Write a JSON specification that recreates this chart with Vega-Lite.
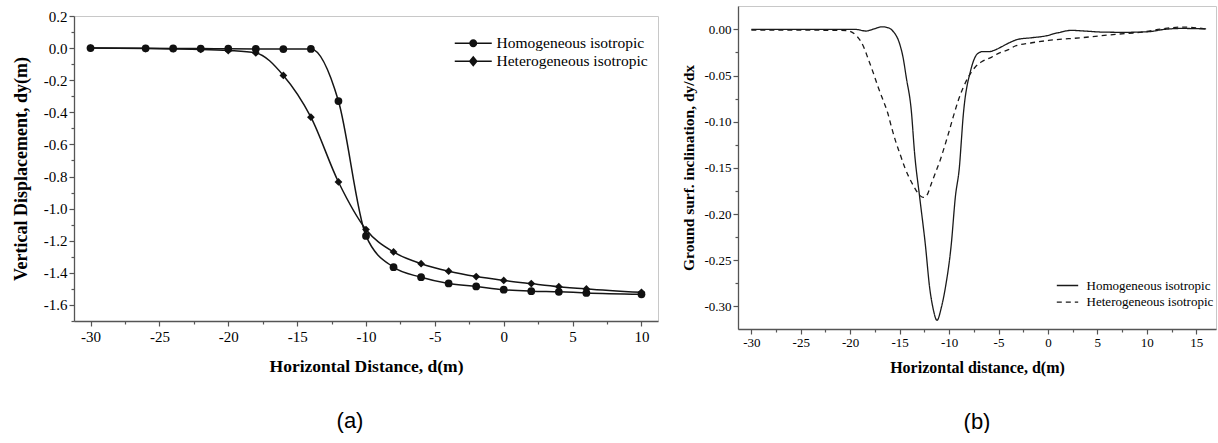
{
  "$schema": "https://vega.github.io/schema/vega-lite/v6.json",
  "background": "white",
  "padding": {"left": 11, "top": 5, "right": 0, "bottom": 0},
  "spacing": 20,
  "config": {
    "font": "Liberation Serif",
    "view": {"stroke": "#c8c8c8", "strokeWidth": 1},
    "axis": {"domainColor": "#555555", "tickColor": "#555555", "labelColor": "#000000", "titleColor": "#000000", "grid": false, "labelFont": "Liberation Serif", "titleFont": "Liberation Serif", "titleFontWeight": "bold", "domainWidth": 1.3, "tickWidth": 1.2},
    "legend": {"labelFont": "Liberation Serif", "labelColor": "#000000"},
    "title": {"font": "Liberation Sans", "fontWeight": "normal", "color": "#000000"}
  },
  "resolve": {"scale": {"shape": "independent", "strokeDash": "independent"}, "legend": {"shape": "independent", "strokeDash": "independent"}},
  "hconcat": [
    {
      "spacing": 1,
      "vconcat": [
        {
          "width": 584,
          "height": 1,
          "view": {"stroke": null},
          "data": {"values": [{"d": 0}]},
          "mark": {"type": "point", "opacity": 0, "size": 0, "strokeWidth": 0},
          "encoding": {}
        },
        {
          "width": 584,
          "height": 305,
          "title": {"text": "(a)", "orient": "bottom", "frame": "group", "anchor": "middle", "fontSize": 22, "offset": 36, "dx": -16},
          "data": {"values": [
            {"d": -30, "dy": 0.0, "series": "Homogeneous isotropic"},
            {"d": -26, "dy": -0.001, "series": "Homogeneous isotropic"},
            {"d": -24, "dy": -0.002, "series": "Homogeneous isotropic"},
            {"d": -22, "dy": -0.003, "series": "Homogeneous isotropic"},
            {"d": -20, "dy": -0.004, "series": "Homogeneous isotropic"},
            {"d": -18, "dy": -0.005, "series": "Homogeneous isotropic"},
            {"d": -16, "dy": -0.006, "series": "Homogeneous isotropic"},
            {"d": -14, "dy": -0.005, "series": "Homogeneous isotropic"},
            {"d": -12, "dy": -0.33, "series": "Homogeneous isotropic"},
            {"d": -10, "dy": -1.17, "series": "Homogeneous isotropic"},
            {"d": -8, "dy": -1.365, "series": "Homogeneous isotropic"},
            {"d": -6, "dy": -1.427, "series": "Homogeneous isotropic"},
            {"d": -4, "dy": -1.466, "series": "Homogeneous isotropic"},
            {"d": -2, "dy": -1.485, "series": "Homogeneous isotropic"},
            {"d": 0, "dy": -1.505, "series": "Homogeneous isotropic"},
            {"d": 2, "dy": -1.514, "series": "Homogeneous isotropic"},
            {"d": 4, "dy": -1.518, "series": "Homogeneous isotropic"},
            {"d": 6, "dy": -1.525, "series": "Homogeneous isotropic"},
            {"d": 10, "dy": -1.534, "series": "Homogeneous isotropic"},
            {"d": -30, "dy": 0.0, "series": "Heterogeneous isotropic"},
            {"d": -26, "dy": -0.003, "series": "Heterogeneous isotropic"},
            {"d": -24, "dy": -0.005, "series": "Heterogeneous isotropic"},
            {"d": -22, "dy": -0.008, "series": "Heterogeneous isotropic"},
            {"d": -20, "dy": -0.015, "series": "Heterogeneous isotropic"},
            {"d": -18, "dy": -0.03, "series": "Heterogeneous isotropic"},
            {"d": -16, "dy": -0.17, "series": "Heterogeneous isotropic"},
            {"d": -14, "dy": -0.43, "series": "Heterogeneous isotropic"},
            {"d": -12, "dy": -0.834, "series": "Heterogeneous isotropic"},
            {"d": -10, "dy": -1.13, "series": "Heterogeneous isotropic"},
            {"d": -8, "dy": -1.27, "series": "Heterogeneous isotropic"},
            {"d": -6, "dy": -1.343, "series": "Heterogeneous isotropic"},
            {"d": -4, "dy": -1.39, "series": "Heterogeneous isotropic"},
            {"d": -2, "dy": -1.423, "series": "Heterogeneous isotropic"},
            {"d": 0, "dy": -1.447, "series": "Heterogeneous isotropic"},
            {"d": 2, "dy": -1.467, "series": "Heterogeneous isotropic"},
            {"d": 4, "dy": -1.486, "series": "Heterogeneous isotropic"},
            {"d": 6, "dy": -1.5, "series": "Heterogeneous isotropic"},
            {"d": 10, "dy": -1.521, "series": "Heterogeneous isotropic"}
          ]},
          "layer": [
            {
              "mark": {"type": "line", "interpolate": "monotone", "color": "#151515", "strokeWidth": 1.5},
              "encoding": {
                "x": {"field": "d", "type": "quantitative", "scale": {"domain": [-31.2, 11.2], "nice": false, "zero": false},
                      "axis": {"orient": "bottom", "values": [-30, -25, -20, -15, -10, -5, 0, 5, 10], "labelExpr": "replace(format(datum.value, 'd'), '\u2212', '-')", "labelFont": "Liberation Serif", "labelFontSize": 15, "tickSize": 5, "labelPadding": 3.5, "title": "Horizontal Distance, d(m)", "titleFont": "Liberation Serif", "titleFontSize": 17.5, "titlePadding": 13}},
                "y": {"field": "dy", "type": "quantitative", "scale": {"domain": [-1.7, 0.2], "nice": false, "zero": false},
                      "axis": {"orient": "left", "values": [-1.6, -1.4, -1.2, -1.0, -0.8, -0.6, -0.4, -0.2, 0, 0.2], "labelExpr": "replace(format(datum.value, '.1f'), '\u2212', '-')", "labelFont": "Liberation Serif", "labelFontSize": 15, "tickSize": 5, "labelPadding": 2, "title": "Vertical Displacement, dy(m)", "titleFont": "Liberation Serif", "titleFontSize": 18, "titlePadding": 13}},
                "detail": {"field": "series", "type": "nominal"}
              }
            },
            {
              "mark": {"type": "point", "filled": true, "size": 60, "color": "#111111", "opacity": 1},
              "encoding": {
                "x": {"field": "d", "type": "quantitative",
                      "axis": {"orient": "bottom", "values": [-27.5, -22.5, -17.5, -12.5, -7.5, -2.5, 2.5, 7.5], "labels": false, "domain": false, "tickSize": 3, "title": null}},
                "y": {"field": "dy", "type": "quantitative",
                      "axis": {"orient": "left", "values": [-1.7, -1.5, -1.3, -1.1, -0.9, -0.7, -0.5, -0.3, -0.1, 0.1], "labels": false, "domain": false, "tickSize": 3, "title": null}},
                "shape": {"field": "series", "type": "nominal",
                          "scale": {"domain": ["Homogeneous isotropic", "Heterogeneous isotropic"], "range": ["circle", "diamond"]},
                          "legend": null}
              }
            },
            {
              "mark": {"type": "point", "size": 100, "filled": true, "color": "#111111", "opacity": 0},
              "encoding": {
                "x": {"field": "d", "type": "quantitative", "axis": null},
                "y": {"field": "dy", "type": "quantitative", "axis": null},
                "shape": {"field": "series", "type": "nominal",
                          "scale": {"domain": ["Homogeneous isotropic", "Heterogeneous isotropic"], "range": ["M-3.7,-0.15L-0.7,-0.15L-0.7,0.15L-3.7,0.15Z M0.7,-0.15L3.7,-0.15L3.7,0.15L0.7,0.15Z M-0.8,0A0.8,0.8,0,1,1,0.8,0A0.8,0.8,0,1,1,-0.8,0Z", "M-3.7,-0.15L-0.8,-0.15L-0.8,0.15L-3.7,0.15Z M0.8,-0.15L3.7,-0.15L3.7,0.15L0.8,0.15Z M0,-1.1L0.9,0L0,1.1L-0.9,0Z"]},
                          "legend": {"orient": "none", "legendX": 391.5, "legendY": 19.4, "title": null, "labelFont": "Liberation Serif", "labelFontSize": 15.5, "labelOffset": 15.5, "symbolOffset": 0, "padding": 0, "rowPadding": 1.2, "symbolSize": 100, "symbolOpacity": 1, "symbolStrokeWidth": 0, "symbolFillColor": "#111111"}}
              }
            }
          ],
          "resolve": {"axis": {"x": "independent", "y": "independent"}, "scale": {"shape": "independent"}, "legend": {"shape": "independent"}}
        }
      ]
    },
    {
      "width": 478,
      "height": 323,
      "title": {"text": "(b)", "orient": "bottom", "frame": "group", "anchor": "middle", "fontSize": 22, "offset": 36.5, "dx": 0},
      "data": {"values": [
        {"d": -30, "slope": 0, "series": "Homogeneous isotropic"},
        {"d": -27, "slope": 0, "series": "Homogeneous isotropic"},
        {"d": -24, "slope": 0, "series": "Homogeneous isotropic"},
        {"d": -21, "slope": 0, "series": "Homogeneous isotropic"},
        {"d": -19.5, "slope": 0, "series": "Homogeneous isotropic"},
        {"d": -18.4, "slope": -0.0018, "series": "Homogeneous isotropic"},
        {"d": -17.6, "slope": 0.0005, "series": "Homogeneous isotropic"},
        {"d": -16.8, "slope": 0.0028, "series": "Homogeneous isotropic"},
        {"d": -16.1, "slope": 0.0015, "series": "Homogeneous isotropic"},
        {"d": -15.67, "slope": -0.002, "series": "Homogeneous isotropic"},
        {"d": -14.99, "slope": -0.016, "series": "Homogeneous isotropic"},
        {"d": -14.66, "slope": -0.03, "series": "Homogeneous isotropic"},
        {"d": -14.33, "slope": -0.052, "series": "Homogeneous isotropic"},
        {"d": -13.82, "slope": -0.088, "series": "Homogeneous isotropic"},
        {"d": -13.48, "slope": -0.135, "series": "Homogeneous isotropic"},
        {"d": -12.97, "slope": -0.182, "series": "Homogeneous isotropic"},
        {"d": -12.4, "slope": -0.233, "series": "Homogeneous isotropic"},
        {"d": -11.96, "slope": -0.28, "series": "Homogeneous isotropic"},
        {"d": -11.63, "slope": -0.3015, "series": "Homogeneous isotropic"},
        {"d": -11.22, "slope": -0.315, "series": "Homogeneous isotropic"},
        {"d": -10.79, "slope": -0.3015, "series": "Homogeneous isotropic"},
        {"d": -10.38, "slope": -0.28, "series": "Homogeneous isotropic"},
        {"d": -9.78, "slope": -0.233, "series": "Homogeneous isotropic"},
        {"d": -9.37, "slope": -0.182, "series": "Homogeneous isotropic"},
        {"d": -8.93, "slope": -0.146, "series": "Homogeneous isotropic"},
        {"d": -8.76, "slope": -0.121, "series": "Homogeneous isotropic"},
        {"d": -8.59, "slope": -0.096, "series": "Homogeneous isotropic"},
        {"d": -8.42, "slope": -0.078, "series": "Homogeneous isotropic"},
        {"d": -8.16, "slope": -0.06, "series": "Homogeneous isotropic"},
        {"d": -7.92, "slope": -0.049, "series": "Homogeneous isotropic"},
        {"d": -7.65, "slope": -0.038, "series": "Homogeneous isotropic"},
        {"d": -7.41, "slope": -0.031, "series": "Homogeneous isotropic"},
        {"d": -7.08, "slope": -0.026, "series": "Homogeneous isotropic"},
        {"d": -6.57, "slope": -0.024, "series": "Homogeneous isotropic"},
        {"d": -5.89, "slope": -0.024, "series": "Homogeneous isotropic"},
        {"d": -5.39, "slope": -0.0225, "series": "Homogeneous isotropic"},
        {"d": -4.72, "slope": -0.019, "series": "Homogeneous isotropic"},
        {"d": -4.04, "slope": -0.0152, "series": "Homogeneous isotropic"},
        {"d": -3.03, "slope": -0.0108, "series": "Homogeneous isotropic"},
        {"d": -1.69, "slope": -0.0091, "series": "Homogeneous isotropic"},
        {"d": -0.33, "slope": -0.0073, "series": "Homogeneous isotropic"},
        {"d": 1.01, "slope": -0.0037, "series": "Homogeneous isotropic"},
        {"d": 2.36, "slope": -0.0011, "series": "Homogeneous isotropic"},
        {"d": 3.71, "slope": -0.0018, "series": "Homogeneous isotropic"},
        {"d": 5.39, "slope": -0.0029, "series": "Homogeneous isotropic"},
        {"d": 7.76, "slope": -0.0032, "series": "Homogeneous isotropic"},
        {"d": 10.1, "slope": -0.0026, "series": "Homogeneous isotropic"},
        {"d": 11.8, "slope": 0, "series": "Homogeneous isotropic"},
        {"d": 13.5, "slope": 0.001, "series": "Homogeneous isotropic"},
        {"d": 16, "slope": 0.0005, "series": "Homogeneous isotropic"},
        {"d": -30, "slope": -0.0008, "series": "Heterogeneous isotropic"},
        {"d": -25, "slope": -0.0008, "series": "Heterogeneous isotropic"},
        {"d": -22, "slope": -0.001, "series": "Heterogeneous isotropic"},
        {"d": -20.4, "slope": -0.0012, "series": "Heterogeneous isotropic"},
        {"d": -19.36, "slope": -0.007, "series": "Heterogeneous isotropic"},
        {"d": -18.68, "slope": -0.018, "series": "Heterogeneous isotropic"},
        {"d": -18.18, "slope": -0.032, "series": "Heterogeneous isotropic"},
        {"d": -17.67, "slope": -0.047, "series": "Heterogeneous isotropic"},
        {"d": -17.16, "slope": -0.063, "series": "Heterogeneous isotropic"},
        {"d": -16.66, "slope": -0.077, "series": "Heterogeneous isotropic"},
        {"d": -16.22, "slope": -0.09, "series": "Heterogeneous isotropic"},
        {"d": -15.82, "slope": -0.106, "series": "Heterogeneous isotropic"},
        {"d": -15.41, "slope": -0.121, "series": "Heterogeneous isotropic"},
        {"d": -14.96, "slope": -0.135, "series": "Heterogeneous isotropic"},
        {"d": -14.5, "slope": -0.149, "series": "Heterogeneous isotropic"},
        {"d": -13.62, "slope": -0.169, "series": "Heterogeneous isotropic"},
        {"d": -12.94, "slope": -0.18, "series": "Heterogeneous isotropic"},
        {"d": -12.6, "slope": -0.182, "series": "Heterogeneous isotropic"},
        {"d": -12.27, "slope": -0.18, "series": "Heterogeneous isotropic"},
        {"d": -11.76, "slope": -0.166, "series": "Heterogeneous isotropic"},
        {"d": -11.26, "slope": -0.152, "series": "Heterogeneous isotropic"},
        {"d": -10.91, "slope": -0.142, "series": "Heterogeneous isotropic"},
        {"d": -10.58, "slope": -0.131, "series": "Heterogeneous isotropic"},
        {"d": -10.07, "slope": -0.113, "series": "Heterogeneous isotropic"},
        {"d": -9.56, "slope": -0.094, "series": "Heterogeneous isotropic"},
        {"d": -9.07, "slope": -0.077, "series": "Heterogeneous isotropic"},
        {"d": -8.57, "slope": -0.063, "series": "Heterogeneous isotropic"},
        {"d": -8.07, "slope": -0.052, "series": "Heterogeneous isotropic"},
        {"d": -7.37, "slope": -0.041, "series": "Heterogeneous isotropic"},
        {"d": -6.7, "slope": -0.035, "series": "Heterogeneous isotropic"},
        {"d": -5.68, "slope": -0.03, "series": "Heterogeneous isotropic"},
        {"d": -5.0, "slope": -0.026, "series": "Heterogeneous isotropic"},
        {"d": -4.0, "slope": -0.022, "series": "Heterogeneous isotropic"},
        {"d": -3.31, "slope": -0.018, "series": "Heterogeneous isotropic"},
        {"d": -1.63, "slope": -0.0145, "series": "Heterogeneous isotropic"},
        {"d": 0.06, "slope": -0.012, "series": "Heterogeneous isotropic"},
        {"d": 3.43, "slope": -0.009, "series": "Heterogeneous isotropic"},
        {"d": 6.82, "slope": -0.0054, "series": "Heterogeneous isotropic"},
        {"d": 9.51, "slope": -0.003, "series": "Heterogeneous isotropic"},
        {"d": 11.88, "slope": 0.001, "series": "Heterogeneous isotropic"},
        {"d": 13.57, "slope": 0.0025, "series": "Heterogeneous isotropic"},
        {"d": 15.9, "slope": 0.0006, "series": "Heterogeneous isotropic"}
      ]},
      "layer": [
        {
          "mark": {"type": "line", "interpolate": "monotone", "color": "#1a1a1a", "strokeWidth": 1.3},
          "encoding": {
            "x": {"field": "d", "type": "quantitative", "scale": {"domain": [-31.35, 17.0], "nice": false, "zero": false},
                  "axis": {"orient": "bottom", "values": [-30, -25, -20, -15, -10, -5, 0, 5, 10, 15], "labelExpr": "replace(format(datum.value, 'd'), '\u2212', '-')", "labelFont": "Liberation Serif", "labelFontSize": 13, "tickSize": 5, "labelPadding": 2, "title": "Horizontal distance, d(m)", "titleFont": "Liberation Serif", "titleFontSize": 16, "titlePadding": 10}},
            "y": {"field": "slope", "type": "quantitative", "scale": {"domain": [-0.3244, 0.0253], "nice": false, "zero": false},
                  "axis": {"orient": "left", "values": [-0.3, -0.25, -0.2, -0.15, -0.1, -0.05, 0], "labelExpr": "replace(format(datum.value, '.2f'), '\u2212', '-')", "labelFont": "Liberation Serif", "labelFontSize": 13, "tickSize": 5, "labelPadding": 2, "title": "Ground surf. inclination, dy/dx", "titleFont": "Liberation Serif", "titleFontSize": 15.5, "titlePadding": 7.3}},
            "strokeDash": {"field": "series", "type": "nominal",
                           "scale": {"domain": ["Homogeneous isotropic", "Heterogeneous isotropic"], "range": [[1, 0], [5, 4]]},
                           "legend": {"orient": "none", "legendX": 323, "legendY": 273, "title": null, "labelFont": "Liberation Serif", "labelFontSize": 13, "labelOffset": 12.6, "symbolOffset": 0, "padding": 0, "rowPadding": 2.7, "symbolType": "M-3.3,0H3.3", "symbolSize": 42, "symbolStrokeWidth": 1.3, "symbolStrokeColor": "#1a1a1a"}}
          }
        },
        {
          "mark": {"type": "line", "opacity": 0, "interpolate": "monotone"},
          "encoding": {
            "x": {"field": "d", "type": "quantitative",
                  "axis": {"orient": "bottom", "values": [-27.5, -22.5, -17.5, -12.5, -7.5, -2.5, 2.5, 7.5, 12.5], "labels": false, "domain": false, "tickSize": 3, "title": null}},
            "y": {"field": "slope", "type": "quantitative",
                  "axis": {"orient": "left", "values": [-0.275, -0.225, -0.175, -0.125, -0.075, -0.025], "labels": false, "domain": false, "tickSize": 3, "title": null}},
            "detail": {"field": "series", "type": "nominal"}
          }
        }
      ],
      "resolve": {"axis": {"x": "independent", "y": "independent"}}
    }
  ]
}
